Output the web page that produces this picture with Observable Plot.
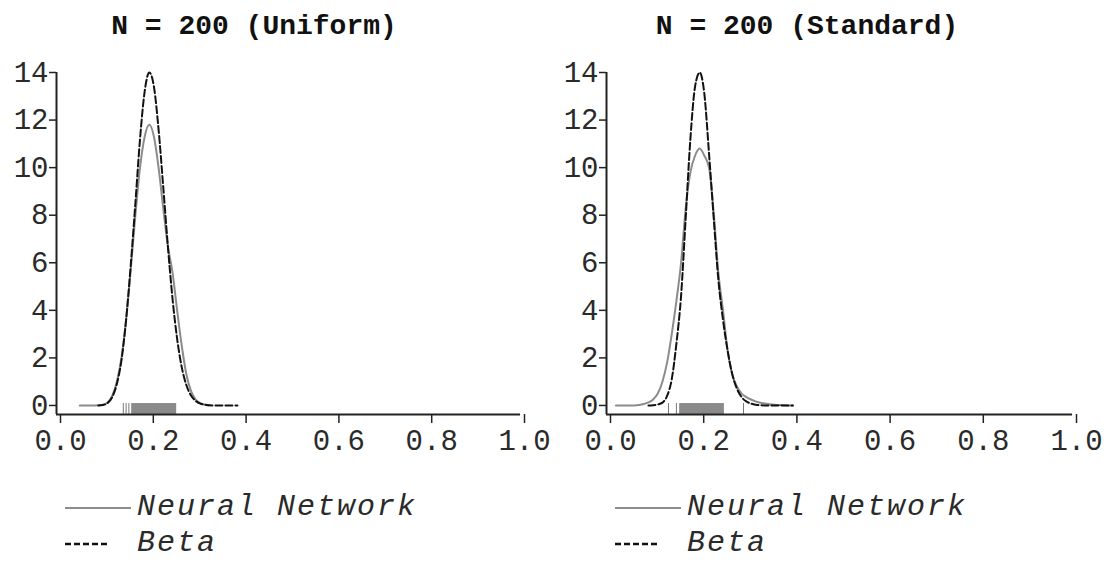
<!DOCTYPE html>
<html>
<head>
<meta charset="utf-8">
<script src="https://cdn.jsdelivr.net/npm/d3@7"></script>
<script src="https://cdn.jsdelivr.net/npm/@observablehq/plot@0.6"></script>
<style>
  body { margin: 0; background: #fff; }
  #wrap { position: relative; width: 1105px; height: 562px; overflow: hidden;
          font-family: "Liberation Mono", "DejaVu Sans Mono", monospace; color: #222; }
  .title { position: absolute; top: 13px; font-weight: bold; font-size: 28px; line-height: 28px;
           transform: translateX(-50%); white-space: pre; color: #111; }
  .panel { position: absolute; top: 50px; }
  .leg { position: absolute; font-style: italic; font-size: 30px; line-height: 35px; letter-spacing: 2px;
         white-space: pre; display: flex; align-items: center; color: #2a2a2a; }
  .leg svg { margin-right: 6px; }
</style>
</head>
<body>
<div id="wrap"></div>
<script>
// Tick values shared by both panels
const xTicks = [0, 0.2, 0.4, 0.6, 0.8, 1.0];
const yTicks = [0, 2, 4, 6, 8, 10, 12, 14];
const yBottom = -0.38;   // x-axis line sits a little below zero
const rugTop = 0.08;

// N = 200 (Uniform)
const uniformNNX = [0.05,0.06,0.07,0.08,0.09,0.10,0.11,0.12,0.13,0.14,0.15,0.16,0.17,0.18,0.19,0.20,
                    0.21,0.22,0.23,0.24,0.25,0.26,0.27,0.28,0.29,0.30,0.31,0.32,0.33];
const uniformNN  = [0,0,0,0,0.01,0.03,0.12,0.4,1.0,2.0,3.6,5.7,8.0,10.0,11.3,11.8,
                    11.3,10.0,8.3,6.7,5.6,4.0,2.5,1.3,0.6,0.25,0.1,0.03,0];
const uniformBetaX = [0.09,0.10,0.11,0.12,0.13,0.14,0.15,0.16,0.17,0.18,0.19,0.20,0.21,0.22,0.23,0.24,
                      0.25,0.26,0.27,0.28,0.29,0.30,0.31,0.32,0.33,0.34,0.35,0.36,0.37,0.38,0.39];
const uniformBeta  = [0,0.02,0.1,0.35,0.9,1.9,3.6,5.9,8.5,11.2,13.2,14.0,13.4,11.6,9.2,6.7,
                      4.5,2.8,1.6,0.85,0.42,0.19,0.08,0.03,0.01,0,0,0,0,0,0];
const uniformRugTicks = [0.144, 0.150, 0.156];
const uniformRugBand = [0.162, 0.259];

// N = 200 (Standard)
const standardNNX = [0.02,0.03,0.04,0.05,0.06,0.07,0.08,0.09,0.10,0.11,0.12,0.13,0.14,0.15,0.16,0.17,
                     0.18,0.19,0.20,0.21,0.22,0.23,0.24,0.25,0.26,0.27,0.28,0.29,0.30,0.31,0.32,0.33,
                     0.34,0.35,0.36,0.37,0.38,0.39,0.40];
const standardNN  = [0,0,0,0,0,0.02,0.06,0.13,0.25,0.5,1.0,1.8,3.0,4.4,6.0,8.3,
                     9.8,10.5,10.8,10.5,10.0,8.1,5.6,4.0,2.3,1.3,0.8,0.5,0.35,0.25,0.17,0.11,
                     0.08,0.05,0.03,0.02,0.01,0,0];
const standardBetaX = [0.09,0.10,0.11,0.12,0.13,0.14,0.15,0.16,0.17,0.18,0.19,0.20,0.21,0.22,0.23,0.24,
                       0.25,0.26,0.27,0.28,0.29,0.30,0.31,0.32,0.33,0.34,0.35,0.36,0.37,0.38,0.39,0.40];
const standardBeta  = [0,0.01,0.04,0.12,0.4,1.1,2.6,4.6,7.9,11.2,13.4,14.0,13.1,10.6,7.9,5.3,
                       3.6,2.3,1.3,0.7,0.35,0.17,0.08,0.03,0.01,0,0,0,0,0,0,0];
const standardRugTicks = [0.133, 0.150, 0.294];
const standardRugBand = [0.157, 0.253];

const seriesNames = ["Neural Network", "Beta"];

const panels = [
  {title: "N = 200 (Uniform)", left: 0, width: 552, marginRight: 32, titleX: 254,
   nnX: uniformNNX, nn: uniformNN, betaX: uniformBetaX, beta: uniformBeta,
   rugTicks: uniformRugTicks, rugBand: uniformRugBand},
  {title: "N = 200 (Standard)", left: 550, width: 555, marginRight: 33, titleX: 807,
   nnX: standardNNX, nn: standardNN, betaX: standardBetaX, beta: standardBeta,
   rugTicks: standardRugTicks, rugBand: standardRugBand}
];

const wrap = document.getElementById("wrap");
const fmt = d3.format(".1f");

for (const p of panels) {
  const nnData = p.nnX.map((x, i) => ({x, y: p.nn[i]}));
  const betaData = p.betaX.map((x, i) => ({x, y: p.beta[i]}));

  const chart = Plot.plot({
    width: p.width,
    height: 420,
    marginLeft: 56,
    marginRight: p.marginRight,
    marginTop: 22,
    marginBottom: 56,
    style: {fontFamily: "Liberation Mono, monospace", fontSize: "29px", color: "#2a2a2a", background: "transparent"},
    x: {domain: [0, 1], label: null},
    y: {domain: [yBottom, 14], label: null},
    marks: [
      // rug of the sampled values
      Plot.rect([p.rugBand], {x1: d => d[0], x2: d => d[1], y1: yBottom, y2: rugTop, fill: "#8a8a8a"}),
      Plot.ruleX(p.rugTicks, {x: d => d, y1: yBottom, y2: rugTop, stroke: "#777", strokeWidth: 1}),
      // axis lines
      Plot.ruleY([yBottom], {stroke: "#222", strokeWidth: 2}),
      Plot.ruleX([0], {stroke: "#222", strokeWidth: 2}),
      Plot.axisX({ticks: xTicks, tickFormat: fmt, tickSize: 9, tickPadding: 6, dx: 4, stroke: "#222", strokeWidth: 1.5}),
      Plot.axisY({ticks: yTicks, tickSize: 7, tickPadding: 1, stroke: "#222", strokeWidth: 1.5}),
      // densities
      Plot.line(nnData, {x: "x", y: "y", stroke: "#8c8c8c", strokeWidth: 2, curve: "monotone-x"}),
      Plot.line(betaData, {x: "x", y: "y", stroke: "#111", strokeWidth: 2, strokeDasharray: "7,3", curve: "monotone-x"})
    ]
  });
  const holder = document.createElement("div");
  holder.className = "panel";
  holder.style.left = p.left + "px";
  holder.appendChild(chart);
  wrap.appendChild(holder);

  const t = document.createElement("div");
  t.className = "title";
  t.style.left = p.titleX + "px";
  t.textContent = p.title;
  wrap.appendChild(t);

  // legend below the panel
  const legX = p.left + 65;
  const swatches = [
    {name: seriesNames[0], stroke: "#8c8c8c", dash: null, top: 490},
    {name: seriesNames[1], stroke: "#111", dash: "6,3", top: 526}
  ];
  for (const s of swatches) {
    const row = document.createElement("div");
    row.className = "leg";
    row.style.left = legX + "px";
    row.style.top = s.top + "px";
    const sw = d3.create("svg").attr("width", 66).attr("height", 10);
    const ln = sw.append("line").attr("x1", 0).attr("x2", s.dash ? 42 : 66).attr("y1", 5).attr("y2", 5)
      .attr("stroke", s.stroke).attr("stroke-width", s.dash ? 2.5 : 2);
    if (s.dash) ln.attr("stroke-dasharray", s.dash);
    row.appendChild(sw.node());
    const span = document.createElement("span");
    span.textContent = s.name;
    row.appendChild(span);
    wrap.appendChild(row);
  }
}
</script>
</body>
</html>
